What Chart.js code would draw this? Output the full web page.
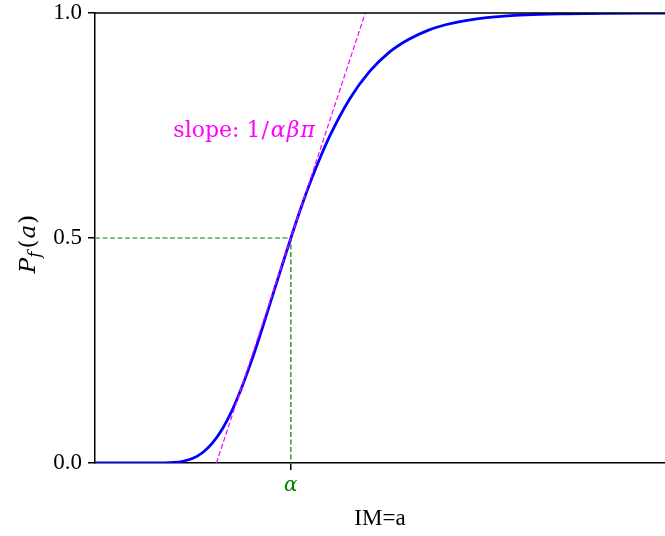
<!DOCTYPE html>
<html>
<head>
<meta charset="utf-8">
<script src="https://cdn.jsdelivr.net/npm/chart.js@4"></script>
<style>
  html, body { margin: 0; padding: 0; background: #fff; }
  #wrap { width: 665px; height: 536px; }
</style>
</head>
<body>
<div id="wrap"><canvas id="chart" width="665" height="536"></canvas></div>
<script>
// intensity measure (in units of alpha) and fragility values
const imValues = [0, 0.2, 0.3, 0.35, 0.4, 0.45, 0.5, 0.55, 0.6, 0.65, 0.7, 0.75, 0.8, 0.85, 0.9, 0.95,
  1.0, 1.05, 1.1, 1.15, 1.2, 1.3, 1.4, 1.5, 1.6, 1.7, 1.8, 1.9, 2.0, 2.2, 2.4, 2.6, 2.91];
const pfValues = [0, 0, 0, 0.0002, 0.0011, 0.0039, 0.0104, 0.0233, 0.0446, 0.0755, 0.117, 0.169, 0.228, 0.294, 0.363, 0.432,
  0.5, 0.565, 0.625, 0.679, 0.728, 0.809, 0.869, 0.912, 0.941, 0.9615, 0.975, 0.9838, 0.9896, 0.9957, 0.9982, 0.9993, 0.9998];

// tangent at the median
const slopeX = [0.62, 1.38];
const slopeY = [0, 1];

// median guide lines
const alphaValue = 1;
const guideX = [0, alphaValue, alphaValue];
const guideY = [0.5, 0.5, 0];

const yTicks = [0, 0.5, 1];
const xMin = 0, xMax = 2.91;

const SERIF = '"Liberation Serif", "DejaVu Serif", serif';
const MATH = '"DejaVu Serif", serif';

const toPts = (xs, ys) => xs.map((x, i) => ({ x, y: ys[i] }));

// draws a list of [font, text, dy, gapAfter] pieces starting at x
function drawPieces(ctx, pieces, x, y) {
  pieces.forEach(([font, text, dy, gap]) => {
    ctx.font = font;
    ctx.fillText(text, x, y + dy);
    x += ctx.measureText(text).width + gap;
  });
}
function piecesWidth(ctx, pieces) {
  let w = 0;
  pieces.forEach(([font, text, dy, gap]) => { ctx.font = font; w += ctx.measureText(text).width + gap; });
  return w;
}

const decorations = {
  id: 'decorations',
  afterDraw(chart) {
    const { ctx, chartArea, scales } = chart;
    ctx.save();
    // top spine
    ctx.strokeStyle = '#000';
    ctx.lineWidth = 1.5;
    ctx.beginPath();
    ctx.moveTo(chartArea.left, chartArea.top);
    ctx.lineTo(chartArea.right, chartArea.top);
    ctx.stroke();

    // slope annotation
    ctx.fillStyle = '#ff00ff';
    ctx.textBaseline = 'alphabetic';
    ctx.textAlign = 'left';
    drawPieces(ctx, [
      ['22px ' + MATH, 'slope: 1', 0, 1],
      ['22px ' + MATH, '/', 0, 2],
      ['italic 22px ' + MATH, 'α', 0, 1],
      ['italic 22px ' + MATH, 'β', 0, 1],
      ['italic 22px ' + MATH, 'π', 0, 0]
    ], scales.x.getPixelForValue(0.4), scales.y.getPixelForValue(0.725));

    // x title
    ctx.fillStyle = '#000';
    ctx.font = '23px ' + SERIF;
    ctx.textAlign = 'center';
    ctx.fillText('IM=a', (chartArea.left + chartArea.right) / 2, 525);

    // y title P_f(a), rotated
    ctx.translate(35, (chartArea.top + chartArea.bottom) / 2 + 6);
    ctx.rotate(-Math.PI / 2);
    ctx.textAlign = 'left';
    const title = [
      ['italic 23px ' + MATH, 'P', 0, 0],
      ['italic 17px ' + MATH, 'f', 5, 3],
      ['23px ' + MATH, '(', 0, 1],
      ['italic 23px ' + MATH, 'a', 0, 1],
      ['23px ' + MATH, ')', 0, 0]
    ];
    drawPieces(ctx, title, -piecesWidth(ctx, title) / 2, 0);
    ctx.restore();
  }
};

new Chart(document.getElementById('chart'), {
  type: 'scatter',
  data: {
    datasets: [
      {
        label: 'slope',
        data: toPts(slopeX, slopeY),
        showLine: true,
        borderColor: '#ff00ff',
        borderWidth: 1.2,
        borderDash: [5, 2.5],
        pointRadius: 0,
        order: 0
      },
      {
        label: 'fragility',
        data: toPts(imValues, pfValues),
        showLine: true,
        borderColor: '#0000ff',
        borderWidth: 2.8,
        cubicInterpolationMode: 'monotone',
        pointRadius: 0,
        order: 1
      },
      {
        label: 'median',
        data: toPts(guideX, guideY),
        showLine: true,
        borderColor: '#008000',
        borderWidth: 1.2,
        borderDash: [5, 2.5],
        pointRadius: 0,
        order: 2
      }
    ]
  },
  options: {
    responsive: false,
    animation: false,
    devicePixelRatio: 1,
    layout: { padding: { top: 13, right: 0, left: 0, bottom: 0 } },
    plugins: {
      legend: { display: false },
      tooltip: { enabled: false }
    },
    scales: {
      x: {
        type: 'linear',
        min: xMin,
        max: xMax,
        afterBuildTicks: s => { s.ticks = [{ value: alphaValue }]; },
        afterFit: s => { s.height = 73; s.paddingLeft = 0; s.paddingRight = 0; },
        ticks: {
          callback: () => 'α',
          color: '#008000',
          font: { family: MATH, size: 20, style: 'italic' },
          padding: 4,
          maxRotation: 0
        },
        grid: { drawOnChartArea: false, drawTicks: true, tickLength: 7, color: '#000', lineWidth: 1.5 },
        border: { display: true, color: '#000', width: 1.5 }
      },
      y: {
        type: 'linear',
        min: 0,
        max: 1,
        afterBuildTicks: s => { s.ticks = yTicks.map(v => ({ value: v })); },
        afterFit: s => { s.width = 95; s.paddingTop = 0; s.paddingBottom = 0; },
        ticks: {
          callback: v => v.toFixed(1),
          color: '#000',
          font: { family: SERIF, size: 23 },
          padding: 6
        },
        grid: { drawOnChartArea: false, drawTicks: true, tickLength: 7, color: '#000', lineWidth: 1.5 },
        border: { display: true, color: '#000', width: 1.5 }
      }
    }
  },
  plugins: [decorations]
});
</script>
</body>
</html>
